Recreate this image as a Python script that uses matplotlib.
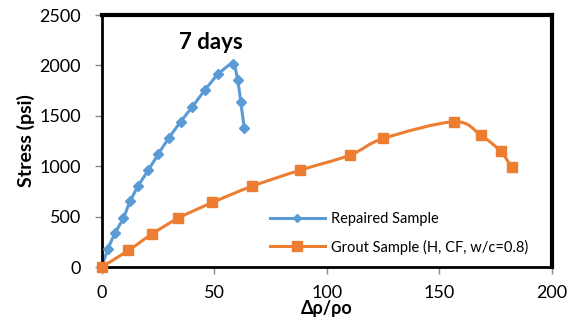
import numpy as np
import matplotlib.pyplot as plt
from matplotlib.path import Path
from matplotlib.patches import PathPatch

plt.rcParams['font.family'] = ['Lato', 'DejaVu Sans']

# Repaired sample, 7 days
rep_x = [0, 2.7, 5.9, 9.6, 12.6, 16.3, 20.7, 25.2, 29.9, 35.1, 40.3, 45.9, 51.8, 58.2, 60.4, 61.8, 63.4]
rep_y = [0, 176, 335, 485, 650, 807, 960, 1122, 1282, 1441, 1590, 1756, 1912, 2012, 1856, 1637, 1375]

# Grout sample (H, CF, w/c=0.8)
gr_x = [0, 11.9, 22.2, 34.1, 49.2, 66.7, 88.1, 110.4, 125.2, 156.6, 168.4, 177.3, 182.2]
gr_y = [0, 165, 325, 485, 640, 800, 960, 1110, 1275, 1441, 1310, 1148, 990]

blue = '#5B9BD5'
orange = '#ED7D31'


def smooth_path(ax, xs, ys, color, lw):
    # excel style smoothed line: catmull-rom segments as bezier curves
    pts = ax.transData.transform(np.column_stack([xs, ys]))
    verts = [pts[0]]
    codes = [Path.MOVETO]
    n = len(pts)
    for i in range(n - 1):
        p0 = pts[max(i - 1, 0)]
        p1 = pts[i]
        p2 = pts[i + 1]
        p3 = pts[min(i + 2, n - 1)]
        c1 = p1 + (p2 - p0) / 6.0
        c2 = p2 - (p3 - p1) / 6.0
        verts += [c1, c2, p2]
        codes += [Path.CURVE4] * 3
    patch = PathPatch(Path(verts, codes), facecolor='none', edgecolor=color,
                      lw=lw, transform=None, zorder=2)
    ax.add_artist(patch)


fig = plt.figure(figsize=(5.76, 3.22), dpi=100)
ax = fig.add_axes([0.1766, 0.1708, 0.781, 0.7826])
ax.set_xlim(0, 200)
ax.set_ylim(0, 2500)

ax.plot(rep_x, rep_y, color=blue, lw=2, marker='D', markersize=5.5,
        linestyle='none', label='Repaired Sample', zorder=3, clip_on=False)
ax.plot(gr_x, gr_y, color=orange, lw=2, marker='s', markersize=7.5,
        linestyle='none', label='Grout Sample (H, CF, w/c=0.8)', zorder=4, clip_on=False)

fig.canvas.draw()
smooth_path(ax, rep_x, rep_y, blue, 2.2)
smooth_path(ax, gr_x, gr_y, orange, 2.2)

# legend handles with lines
h1, = ax.plot([], [], color=blue, lw=2.2, marker='D', markersize=4)
h2, = ax.plot([], [], color=orange, lw=2.2, marker='s', markersize=7.5)
ax.legend([h1, h2], ['Repaired Sample', 'Grout Sample (H, CF, w/c=0.8)'],
          loc='upper left', bbox_to_anchor=(0.36, 0.24), frameon=False,
          fontsize=10.5, handlelength=3.8, handletextpad=0.4,
          labelspacing=0.9, borderaxespad=0)

ax.set_xticks([0, 50, 100, 150, 200])
ax.set_yticks([0, 500, 1000, 1500, 2000, 2500])
ax.tick_params(axis='both', labelsize=13, colors='#888888', length=5, width=1,
               labelcolor='black')
ax.tick_params(axis='y', pad=10)
ax.tick_params(axis='x', pad=8)

for s in ['top', 'right']:
    ax.spines[s].set_linewidth(3)
for s in ['left', 'bottom']:
    ax.spines[s].set_linewidth(2)

ax.set_xlabel('Δρ/ρo', fontsize=13, fontweight='bold', labelpad=-1)
ax.set_ylabel('Stress (psi)', fontsize=14, fontweight='bold', labelpad=3)
ax.text(48.6, 2230, '7 days', fontsize=16, fontweight='bold', ha='center', va='center')

fig.savefig('out.png', dpi=100)
